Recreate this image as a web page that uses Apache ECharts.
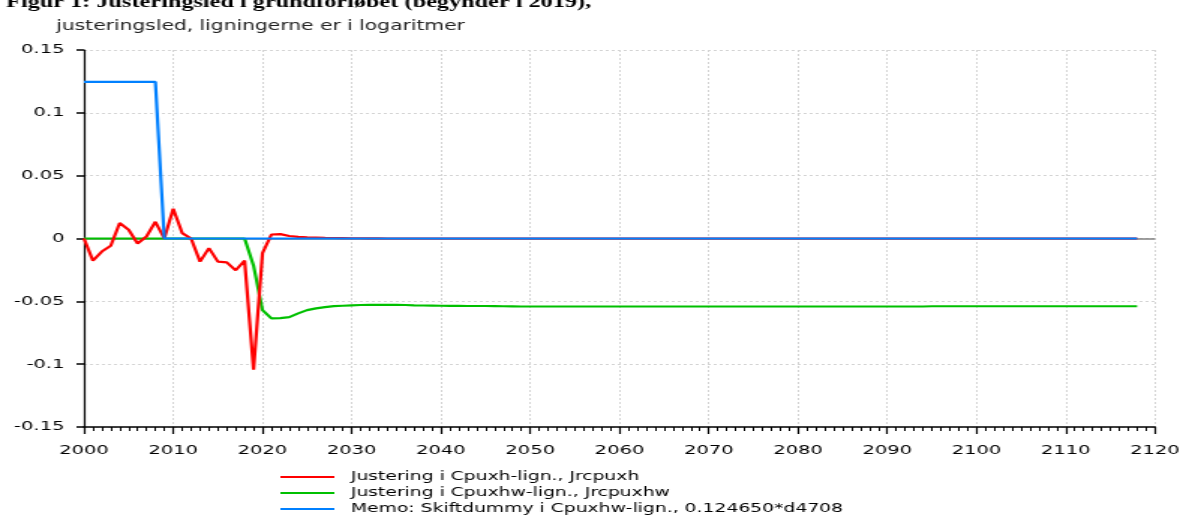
<!DOCTYPE html>
<html>
<head>
<meta charset="utf-8">
<script src="https://cdn.jsdelivr.net/npm/echarts@6/dist/echarts.min.js"></script>
<style>
    html, body { margin: 0; padding: 0; background: #fff; overflow: hidden; }
    /* originalen er strakt vandret ca. 1.5x, saa vi tegner smalt og strækker */
    #chart { width: 791px; height: 516px; transform: scaleX(1.49937); transform-origin: 0 0; }
</style>
</head>
<body>
<div id="chart"></div>
<script>
// år 2000..2118
const firstYear = 2000
const lastYear = 2118

// Justering i Cpuxh-lign., Jrcpuxh (2000-2033, derefter 0)
const jrcpuxhStart = [
    0, -0.0176, -0.0104, -0.0058, 0.0123, 0.007, -0.004, 0.0016, 0.0133, 0,
    0.0237, 0.0043, 0, -0.0184, -0.0077, -0.0184, -0.019, -0.0253, -0.0176, -0.1043,
    -0.0117, 0.0032, 0.0035, 0.002, 0.0013, 0.0009, 0.0007, 0.0005, 0.0004, 0.0003,
    0.0002, 0.0002, 0.0001, 0.0001
]

// Justering i Cpuxhw-lign., Jrcpuxhw (2000-2048)
const jrcpuxhwStart = [
    0, 0, 0, 0, 0, 0, 0, 0, 0, 0,
    0, 0, 0, 0, 0, 0, 0, 0, 0, -0.0216,
    -0.057, -0.0636, -0.0634, -0.0626, -0.0596, -0.057, -0.0556, -0.0546, -0.0538, -0.0535,
    -0.0532, -0.0529, -0.0528, -0.0528, -0.0528, -0.0528, -0.0529, -0.0532, -0.0533, -0.0534,
    -0.0535, -0.0536, -0.0536, -0.0537, -0.0537, -0.0537, -0.0538, -0.0539, -0.054
]
// niveau 2049-2094 og 2095-2118
const jrcpuxhwMid = -0.0541
const jrcpuxhwEnd = -0.0539

// Memo: Skiftdummy i Cpuxhw-lign., 0.124650*d4708 (2000-2008, derefter 0)
const skiftdummyStart = [0.12465, 0.12465, 0.12465, 0.12465, 0.12465, 0.12465, 0.12465, 0.12465, 0.12465]

const seriesNames = [
    'Justering i Cpuxh-lign., Jrcpuxh',
    'Justering i Cpuxhw-lign., Jrcpuxhw',
    'Memo: Skiftdummy i Cpuxhw-lign., 0.124650*d4708'
]
const seriesColors = ['#ff0000', '#00c000', '#0080ff']

const years = []
for (let y = firstYear; y <= lastYear; y++) years.push(y)

const red = years.map((y, i) => [y, i < jrcpuxhStart.length ? jrcpuxhStart[i] : 0])
const green = years.map((y, i) => {
    if (i < jrcpuxhwStart.length) return [y, jrcpuxhwStart[i]]
    return [y, y < 2095 ? jrcpuxhwMid : jrcpuxhwEnd]
})
const blue = years.map((y, i) => [y, i < skiftdummyStart.length ? skiftdummyStart[i] : 0])

const gridLine = { show: true, lineStyle: { color: '#d4d4d4', type: [2, 2], width: 1 } }
const font = 'DejaVu Sans'

function lineSeries(idx, data, z) {
    return {
        name: seriesNames[idx],
        type: 'line',
        data: data,
        symbol: 'none',
        z: z,
        itemStyle: { color: seriesColors[idx] },
        lineStyle: { width: 2.2, color: seriesColors[idx] }
    }
}

const chart = echarts.init(document.getElementById('chart'))
chart.setOption({
    animation: false,
    title: [
        {
            text: 'Figur 1: Justeringsled i grundforløbet (begynder i 2019),',
            left: -1,
            top: -10,
            textStyle: { fontFamily: 'Liberation Serif', fontWeight: 'bold', fontSize: 16.2, color: '#000' }
        },
        {
            text: 'justeringsled, ligningerne er i logaritmer',
            left: 32.5,
            top: 14,
            textStyle: { fontFamily: font, fontWeight: 'normal', fontSize: 13.5, color: '#222' }
        }
    ],
    grid: { left: 56, right: 20.7, top: 50, bottom: 89 },
    legend: {
        data: seriesNames,
        orient: 'vertical',
        left: 187,
        top: 470,
        height: 60,
        padding: 0,
        icon: 'rect',
        itemWidth: 36,
        itemHeight: 2,
        itemGap: 2,
        textStyle: { fontFamily: font, fontSize: 12.5, lineHeight: 14, color: '#000', padding: [0, 0, 0, 6] }
    },
    xAxis: {
        type: 'value',
        min: 2000,
        max: 2120,
        interval: 10,
        axisLine: { onZero: false, lineStyle: { color: '#000', width: 1.5 } },
        axisTick: { length: 7, lineStyle: { color: '#000', width: 1.2 } },
        minorTick: { show: true, splitNumber: 10, length: 4, lineStyle: { color: '#000', width: 1 } },
        axisLabel: { fontFamily: font, fontSize: 13, color: '#000', margin: 17, formatter: v => String(v) },
        splitLine: gridLine
    },
    yAxis: {
        type: 'value',
        min: -0.15,
        max: 0.15,
        interval: 0.05,
        axisLine: { show: true, lineStyle: { color: '#000', width: 1.2 } },
        axisTick: { show: true, length: 5, lineStyle: { color: '#000', width: 1.5 } },
        axisLabel: {
            fontFamily: font, fontSize: 13, color: '#000', margin: 13,
            formatter: v => String(Math.round(v * 100) / 100)
        },
        splitLine: gridLine
    },
    series: [
        {
            // nul-linje
            name: 'nul',
            type: 'line',
            data: [],
            z: 1,
            silent: true,
            markLine: {
                z: 1,
                silent: true,
                symbol: 'none',
                label: { show: false },
                lineStyle: { color: '#808080', type: 'solid', width: 1.5 },
                data: [{ yAxis: 0 }]
            }
        },
        lineSeries(0, red, 3),
        lineSeries(1, green, 2),
        lineSeries(2, blue, 4)
    ]
})
</script>
</body>
</html>
